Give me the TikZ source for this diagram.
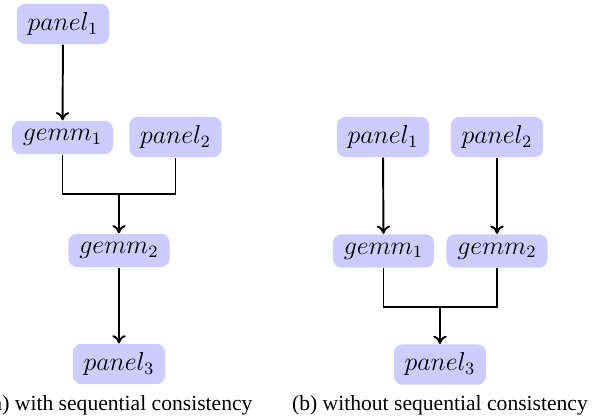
\documentclass[tikz,border=0pt]{standalone}
\usepackage{fontspec}
\usetikzlibrary{arrows.meta}
\newfontfamily\capfont{Liberation Serif}
\begin{document}
\begin{tikzpicture}[x=0.463pt,y=-0.463pt,
  task/.style={fill=blue!20,rounded corners=4pt,inner xsep=5pt,inner ysep=4pt,
    font=\fontsize{12}{14}\selectfont},
  conn/.style={line width=0.9pt},
  arr/.style={line width=0.9pt,-{To[length=3.8pt,width=6.2pt]}},
  subcap/.style={anchor=base,inner sep=0pt,font=\capfont\fontsize{10}{12}\selectfont}]
\useasboundingbox (0,0) rectangle (598,419);
% (a)
\node[task] (Lp1) at (63,24) {$panel_1$};
\node[task] (Lg1) at (62.5,137.5) {$gemm_1$};
\node[task] (Lp2) at (175.5,137) {$panel_2$};
\node[task] (Lg2) at (119,250.5) {$gemm_2$};
\node[task] (Lp3) at (119,364) {$panel_3$};
\coordinate (Lj) at (119,194);
\draw[arr] (Lp1) -- (Lg1);
\draw[conn] (Lg1.south) |- (Lj) -| (Lp2.south);
\draw[arr] (Lj) -- (Lg2.north);
\draw[arr] (Lg2) -- (Lp3);
\node[subcap] (Lcap) at (119,411) {(a) with sequential consistency};
% (b)
\node[task] (Rp1) at (383,137) {$panel_1$};
\node[task] (Rp2) at (497,137) {$panel_2$};
\node[task] (Rg1) at (383.5,251) {$gemm_1$};
\node[task] (Rg2) at (497,251) {$gemm_2$};
\node[task] (Rp3) at (440,364.5) {$panel_3$};
\coordinate (Rj) at (440,307);
\draw[arr] (Rp1) -- (Rg1);
\draw[arr] (Rp2) -- (Rg2);
\draw[conn] (Rg1.south) |- (Rj) -| (Rg2.south);
\draw[arr] (Rj) -- (Rp3.north);
\node[subcap] (Rcap) at (440,411) {(b) without sequential consistency};
\end{tikzpicture}
\end{document}
